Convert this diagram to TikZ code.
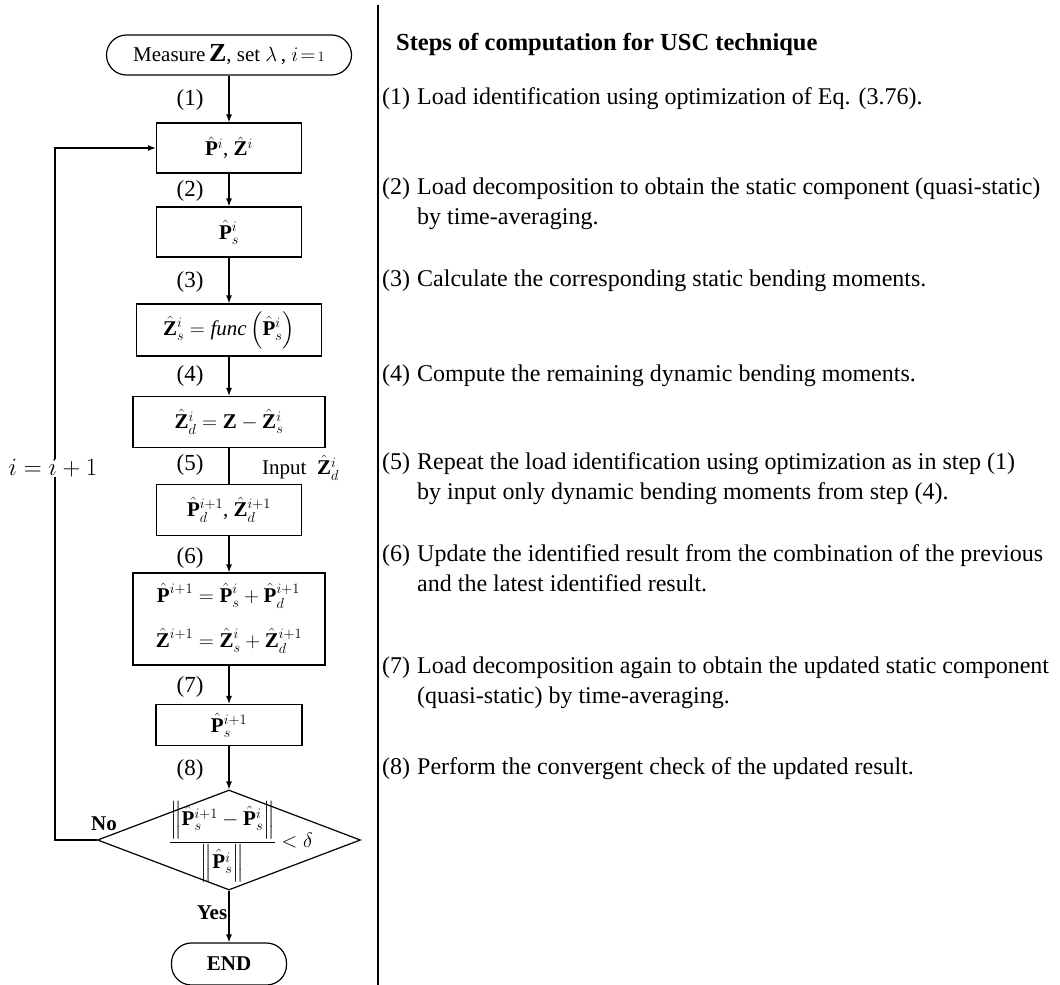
\documentclass[tikz,border=0pt]{standalone}
\usepackage{amsmath}
\usepackage{fontspec}
\setmainfont{Liberation Serif}
\usetikzlibrary{arrows.meta,positioning,shapes.geometric}

\begin{document}
\begin{tikzpicture}[x=1pt, y=-1pt,
  fBox/.style ={rectangle, draw=black, line width=1.2pt, inner sep=2pt, minimum height=50pt, font=\fontsize{21}{25}\selectfont},
  fPill/.style={fBox, rounded corners=20pt, minimum height=40pt},
  fDiam/.style={diamond, draw=black, line width=1.2pt, inner sep=0pt, minimum width=263pt, minimum height=100pt},
  fLbl/.style ={inner sep=0pt, font=\fontsize{23}{23}\selectfont},
  fArr/.style ={-{Latex[length=8pt,width=6pt]}, line width=1.2pt},
  fLine/.style={line width=1.2pt},
  rNum/.style ={anchor=north west, inner sep=0pt, font=\fontsize{24}{30}\selectfont},
  rTxt/.style ={rNum, align=left},
]
\useasboundingbox (0,0) rectangle (1060,985);

% flow chart column
\node[fPill, minimum width=245pt] (start) at (229,55)
  {Measure\,{\fontsize{26}{26}\selectfont$\mathbf{Z}$}, set $\lambda$\,, $i\!=\!{\scriptstyle 1}$};
\node[fBox, minimum width=145pt] (pz) at (229,148) {$\hat{\mathbf{P}}^{i}$, $\hat{\mathbf{Z}}^{i}$};
\node[fBox, minimum width=145pt] (ps) at (229,232) {$\hat{\mathbf{P}}^{i}_{s}$};
\node[fBox, minimum width=185pt, minimum height=52pt] (zs) at (229,330)
  {$\hat{\mathbf{Z}}^{i}_{s}=\mathit{func}\left(\hat{\mathbf{P}}^{i}_{s}\right)$};
\node[fBox, minimum width=192pt, minimum height=51pt] (zd) at (229,422)
  {$\hat{\mathbf{Z}}^{i}_{d}=\mathbf{Z}-\hat{\mathbf{Z}}^{i}_{s}$};
\node[fBox, minimum width=145pt, minimum height=51pt] (pzd) at (229,510)
  {$\hat{\mathbf{P}}^{i+1}_{d}$, $\hat{\mathbf{Z}}^{i+1}_{d}$};
\node[fBox, minimum width=192pt, minimum height=92pt] (upd) at (229,619)
  {$\begin{aligned}
     \hat{\mathbf{P}}^{i+1} &= \hat{\mathbf{P}}^{i}_{s}+\hat{\mathbf{P}}^{i+1}_{d}\\[14pt]
     \hat{\mathbf{Z}}^{i+1} &= \hat{\mathbf{Z}}^{i}_{s}+\hat{\mathbf{Z}}^{i+1}_{d}
   \end{aligned}$};
\node[fBox, minimum width=146pt, minimum height=41pt] (psn) at (229,725) {$\hat{\mathbf{P}}^{i+1}_{s}$};
\node[fDiam] (chk) at (229,840) {};
\node[inner sep=0pt, font=\fontsize{21}{25}\selectfont] (chkf) at ([xshift=12pt,yshift=-2pt]chk.center)
  {$\dfrac{\left\|\hat{\mathbf{P}}^{i+1}_{s}-\hat{\mathbf{P}}^{i}_{s}\right\|}{\left\|\hat{\mathbf{P}}^{i}_{s}\right\|}<\delta$};
\node[fPill, minimum width=115pt, minimum height=42pt, font=\bfseries\fontsize{21}{25}\selectfont] (fin) at (229,964) {END};

\coordinate (loopx) at (55,0);
\draw[fArr] (start) -- (pz);
\draw[fArr] (pz) -- (ps);
\draw[fArr] (ps) -- (zs);
\draw[fArr] (zs) -- (zd);
\draw[fLine] (zd) -- (pzd);
\draw[fArr] (pzd) -- (upd);
\draw[fArr] (upd) -- (psn);
\draw[fArr] (psn) -- (chk);
\draw[fArr] (chk) -- (fin);
\draw[fArr] (chk.west) -- (chk.west -| loopx) |- (pz.west);

% step numbers and side labels
\foreach \n/\y in {1/100,2/191,3/282,4/376,5/465,6/558,7/687,8/770}
  \node[fLbl] (l\n) at (190,\y) {(\n)};
\node[fLbl, anchor=west, font=\fontsize{21}{21}\selectfont] (inp) at (262,468) {Input\ \ $\hat{\mathbf{Z}}^{i}_{d}$};
\node[fLbl, fill=white, font=\fontsize{26}{26}\selectfont] (inc) at (53,468) {$i=i+1$};
\node[fLbl, font=\bfseries\fontsize{21}{21}\selectfont] (no) at (104,824) {No};
\node[fLbl, font=\bfseries\fontsize{21}{21}\selectfont] (yes) at (212,913) {Yes};

% divider
\draw[fLine] (378,5) -- (378,985);

% step descriptions
\node[anchor=west, inner sep=0pt, font=\bfseries\fontsize{24.5}{30}\selectfont] (head) at (396,44)
  {Steps of computation for USC technique};
\foreach \n/\y in {1/83,2/173,3/265,4/360,5/448,6/540,7/652,8/753}
  \node[rNum] (n\n) at (382,\y) {\strut(\n)};
\node[rTxt] (t1) at ([xshift=35pt]n1.north west) {\strut Load identification using optimization of Eq. (3.76).};
\node[rTxt] (t2) at ([xshift=35pt]n2.north west) {\strut Load decomposition to obtain the static component (quasi-static)\\by time-averaging.};
\node[rTxt] (t3) at ([xshift=35pt]n3.north west) {\strut Calculate the corresponding static bending moments.};
\node[rTxt] (t4) at ([xshift=35pt]n4.north west) {\strut Compute the remaining dynamic bending moments.};
\node[rTxt] (t5) at ([xshift=35pt]n5.north west) {\strut Repeat the load identification using optimization as in step (1)\\by input only dynamic bending moments from step (4).};
\node[rTxt] (t6) at ([xshift=35pt]n6.north west) {\strut Update the identified result from the combination of the previous\\and the latest identified result.};
\node[rTxt] (t7) at ([xshift=35pt]n7.north west) {\strut Load decomposition again to obtain the updated static component\\(quasi-static) by time-averaging.};
\node[rTxt] (t8) at ([xshift=35pt]n8.north west) {\strut Perform the convergent check of the updated result.};
\end{tikzpicture}
\end{document}
